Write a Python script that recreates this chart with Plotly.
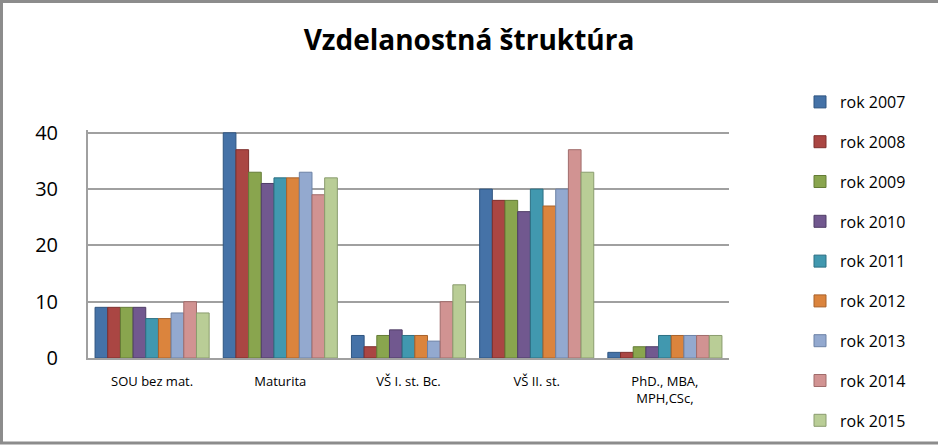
import plotly.graph_objects as go

categories = ["SOU bez mat.", "Maturita", "VŠ I. st. Bc.", "VŠ II. st.", "PhD., MBA,<br>MPH,CSc,"]
series_names = ["rok 2007", "rok 2008", "rok 2009", "rok 2010", "rok 2011",
                "rok 2012", "rok 2013", "rok 2014", "rok 2015"]
rok_2007 = [9, 40, 4, 30, 1]
rok_2008 = [9, 37, 2, 28, 1]
rok_2009 = [9, 33, 4, 28, 2]
rok_2010 = [9, 31, 5, 26, 2]
rok_2011 = [7, 32, 4, 30, 4]
rok_2012 = [7, 32, 4, 27, 4]
rok_2013 = [8, 33, 3, 30, 4]
rok_2014 = [10, 29, 10, 37, 4]
rok_2015 = [8, 32, 13, 33, 4]
series_values = [rok_2007, rok_2008, rok_2009, rok_2010, rok_2011,
                 rok_2012, rok_2013, rok_2014, rok_2015]
colors = ["#4572A7", "#AA4643", "#89A54E", "#71588F", "#4198AF",
          "#DB843D", "#93A9CF", "#D19392", "#B9CD96"]
edge_colors = ["#2F5580", "#7E2F2D", "#647C36", "#4F3D66", "#2D7083",
               "#A8622B", "#6C82A6", "#A06C6B", "#8A9C6E"]

FONT = "Open Sans, Lato, sans-serif"

fig = go.Figure()
for i, (name, vals) in enumerate(zip(series_names, series_values)):
    fig.add_trace(go.Bar(
        x=categories, y=vals, name=name, legendgroup=name,
        marker=dict(color=colors[i], line=dict(color=edge_colors[i], width=1)),
    ))

W, H = 938, 445
ml, mr, mt, mb = 88, 209, 130, 87
pw = W - ml - mr
ph = H - mt - mb

fig.update_layout(
    width=W, height=H,
    margin=dict(l=ml, r=mr, t=mt, b=mb, autoexpand=False),
    paper_bgcolor="white", plot_bgcolor="white",
    barmode="group", bargap=0.11, bargroupgap=0.0,
    title=dict(text="<b>Vzdelanostná štruktúra</b>", x=0.5, xanchor="center",
               y=1 - 40 / H, yanchor="middle",
               font=dict(family=FONT, size=28, color="#000000")),
    font=dict(family=FONT, color="#000000"),
    legend=dict(x=1 + 71 / pw, xanchor="left", y=1 + 45 / ph, yanchor="top",
                font=dict(size=16, color="#000000"), tracegroupgap=16,
                itemwidth=30, bgcolor="rgba(0,0,0,0)", maxheight=1.0),
    showlegend=True,
    xaxis=dict(showgrid=False, showline=True, linecolor="#A0A0A0", linewidth=2,
               tickfont=dict(size=13), ticks="", ticklabelstandoff=10, automargin=False),
    yaxis=dict(range=[0, 40.5], tickvals=[0, 10, 20, 30, 40], showgrid=True,
               gridcolor="#A0A0A0", gridwidth=2, showline=True, linecolor="#A0A0A0",
               linewidth=2, zeroline=False, tickfont=dict(size=20), ticks="",
               ticklabelstandoff=24, automargin=False),
    shapes=[dict(type="rect", xref="paper", yref="paper",
                 x0=-(ml - 1.5) / pw, x1=1 + (mr + 10) / pw,
                 y0=-(mb - 2) / ph, y1=1 + (mt - 1.5) / ph,
                 line=dict(color="#8C8C8C", width=3), layer="below")],
)

fig.write_html("out.html",
               config={"displayModeBar": False},
               post_script="document.body.style.margin='0';document.body.style.padding='0';")
